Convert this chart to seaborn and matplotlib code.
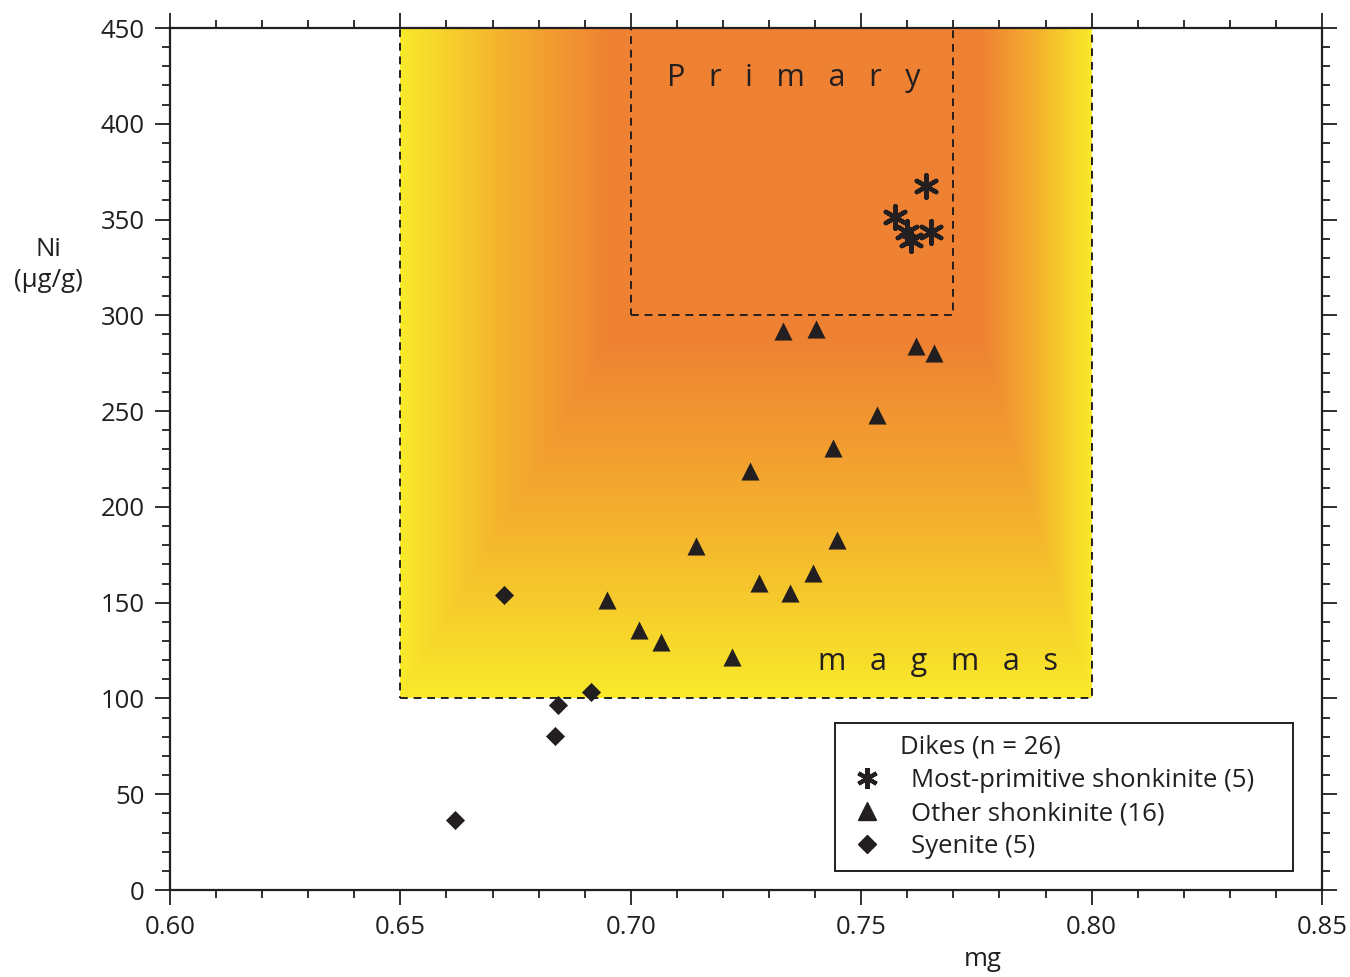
import numpy as np
import pandas as pd
import matplotlib
matplotlib.use("Agg")
import matplotlib.pyplot as plt
from matplotlib.lines import Line2D
from matplotlib.patches import Rectangle
from matplotlib.ticker import MultipleLocator
import seaborn as sns

# -----------------------------
# data
# -----------------------------
star_mg = [0.7641, 0.7573, 0.7599, 0.7608, 0.7651]
star_ni = [367.5, 351.3, 343.5, 339.3, 343.5]

tri_mg = [0.7331, 0.7402, 0.7620, 0.7659, 0.7534, 0.7439, 0.7259, 0.7141,
          0.7448, 0.7396, 0.7279, 0.7345, 0.6948, 0.7018, 0.7065, 0.7220]
tri_ni = [292.0, 293.0, 284.1, 280.2, 248.0, 230.9, 218.9, 179.7,
          182.7, 165.6, 160.4, 155.2, 151.4, 135.7, 129.6, 121.8]

dia_mg = [0.6724, 0.6913, 0.6841, 0.6835, 0.6618]
dia_ni = [153.8, 103.2, 96.4, 80.2, 36.4]

groups = ["Most-primitive shonkinite (5)", "Other shonkinite (16)", "Syenite (5)"]

df = pd.DataFrame({
    "mg": star_mg + tri_mg + dia_mg,
    "Ni": star_ni + tri_ni + dia_ni,
    "group": [groups[0]] * len(star_mg) + [groups[1]] * len(tri_mg) + [groups[2]] * len(dia_mg),
})

# primary magma field (outer) and primary box (inner)
outer = (0.65, 0.80, 100, 450)
inner = (0.70, 0.77, 300, 450)

sns.set_style("ticks")
plt.rcParams["font.family"] = ["Open Sans", "DejaVu Sans"]
ink = "#231f20"

fig = plt.figure(figsize=(13.5, 9.77), dpi=100)
ax = fig.add_axes([170 / 1350, 1 - 890 / 977, 1152 / 1350, 862 / 977])

# -----------------------------
# box gradient yellow -> orange
# -----------------------------
xs = np.linspace(outer[0], outer[1], 600)
ys = np.linspace(outer[2], outer[3], 700)
X, Y = np.meshgrid(xs, ys)
t = np.minimum.reduce([
    (X - 0.65) / (0.696 - 0.65),
    (0.80 - X) / (0.80 - 0.776),
    (Y - 100) / (288 - 100),
])
t = np.clip(t, 0, 1)
yellow = np.array([249, 234, 42]) / 255
mid = np.array([244, 176, 46]) / 255
orange = np.array([239, 129, 51]) / 255
t3 = t[..., None]
rgb = np.where(t3 < 0.5,
               yellow + (mid - yellow) * (t3 / 0.5),
               mid + (orange - mid) * ((t3 - 0.5) / 0.5))
ax.imshow(rgb, extent=outer, origin="lower", aspect="auto", zorder=0, interpolation="bilinear")

for x0, x1, y0, y1 in (outer, inner):
    ax.add_patch(Rectangle((x0, y0), x1 - x0, y1 - y0, fill=False, ec=ink,
                           lw=1.4, ls=(0, (4, 3)), zorder=1))

# -----------------------------
# scatter
# -----------------------------
markers = {groups[0]: (6, 2, 0), groups[1]: "^", groups[2]: "D"}
sizes = {groups[0]: 260, groups[1]: 170, groups[2]: 95}
for g in groups:
    sub = df[df["group"] == g]
    sns.scatterplot(data=sub, x="mg", y="Ni", marker=markers[g], s=sizes[g],
                    color=ink, edgecolor=ink,
                    linewidth=3.2 if g == groups[0] else 0, ax=ax, zorder=3, legend=False)

ax.text(0.7353, 424, "P   r   i   m   a   r   y", fontsize=22, ha="center", va="center", color=ink)
ax.text(0.7667, 119, "m   a   g   m   a   s", fontsize=22, ha="center", va="center", color=ink)

# -----------------------------
# axes
# -----------------------------
ax.set_xlim(0.60, 0.85)
ax.set_ylim(0, 450)
ax.xaxis.set_major_locator(MultipleLocator(0.05))
ax.xaxis.set_minor_locator(MultipleLocator(0.01))
ax.yaxis.set_major_locator(MultipleLocator(50))
ax.yaxis.set_minor_locator(MultipleLocator(10))
ax.set_xticklabels([f"{v:.2f}" for v in ax.get_xticks()])
ax.tick_params(which="both", direction="out", top=True, right=True, color=ink,
               labelsize=18.5, labelcolor=ink)
ax.tick_params(which="major", length=11, width=1.3, pad=7)
ax.tick_params(which="minor", length=6, width=1.3)
for sp in ax.spines.values():
    sp.set_visible(True)
    sp.set_linewidth(1.6)
    sp.set_color(ink)
ax.set_xlabel("")
ax.set_ylabel("")
ax.text(0.7764, -0.081, "mg", transform=ax.get_xaxis_transform(), fontsize=18.5,
        ha="center", va="center", color=ink)
fig.text(48 / 1350, 1 - 265 / 977, "Ni\n(µg/g)", fontsize=18.5, ha="center", va="center",
         color=ink, linespacing=1.35)

# legend
handles = [
    Line2D([], [], ls="", marker=(6, 2, 0), ms=15, mew=3, color=ink),
    Line2D([], [], ls="", marker="^", ms=13, color=ink),
    Line2D([], [], ls="", marker="D", ms=9, color=ink),
]
leg = ax.legend(handles, groups, title="        Dikes (n = 26)", loc="lower left",
                bbox_to_anchor=(0.577, 0.022, 0.398, 0.172), mode="expand",
                borderaxespad=0, fontsize=18.5, title_fontsize=18.5, frameon=True,
                fancybox=False, edgecolor=ink, framealpha=1, handletextpad=0.9,
                handlelength=1.6, labelspacing=0.32, borderpad=0.45, alignment="left")
leg.get_frame().set_linewidth(1.4)
leg.get_title().set_color(ink)
for txt in leg.get_texts():
    txt.set_color(ink)

fig.savefig("out.png", dpi=100)
